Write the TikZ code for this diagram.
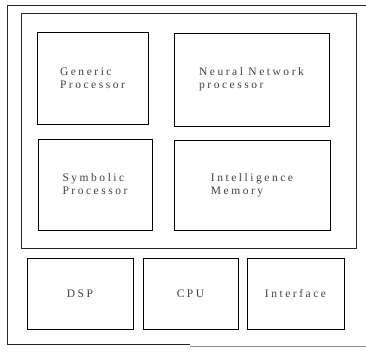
\documentclass[tikz,border=0pt]{standalone}
\usepackage{fontspec}
\setmainfont{Liberation Serif}[LetterSpace=22]
\usetikzlibrary{positioning}
\tikzset{line width=1.2pt,
  every node/.style={font=\fontsize{11.5}{13}\selectfont},
  frame/.style={draw=black!85,line width=.9pt},
  unit/.style={draw,rectangle,align=left,text=black!75,inner sep=0pt},
  scanline/.style={draw=black!45,line width=.6pt}}
\begin{document}
\begin{tikzpicture}[x=1pt,y=-1pt]
\useasboundingbox(0,0)rectangle(366,352);
% outer board, open on the right
\draw[frame](366,5)--(7,5)--(7,344)--(190,344);
\draw[scanline](190,346)--(366,346);
% intelligent core
\node[frame,minimum width=335,minimum height=235,inner sep=0pt](core)at(188.5,130.5){};
\node[unit,minimum width=111,minimum height=92](gen)at(92.5,78){Generic\\Processor};
\node[unit,minimum width=155,minimum height=93](nn)at(251.5,79.5){Neural Network\\ processor};
\node[unit,minimum width=114,minimum height=91](sym)at(95,184.5){Symbolic\\Processor};
\node[unit,minimum width=156,minimum height=90](mem)at(252,185){Intelligence\\Memory};
% conventional parts
\node[unit,minimum width=106,minimum height=71](dsp)at(80,293.5){DSP};
\node[unit,minimum width=95,minimum height=71](cpu)at(190.5,293.5){CPU};
\node[unit,minimum width=97,minimum height=71](intf)at(295.5,293.5){Interface};
\end{tikzpicture}
\end{document}
